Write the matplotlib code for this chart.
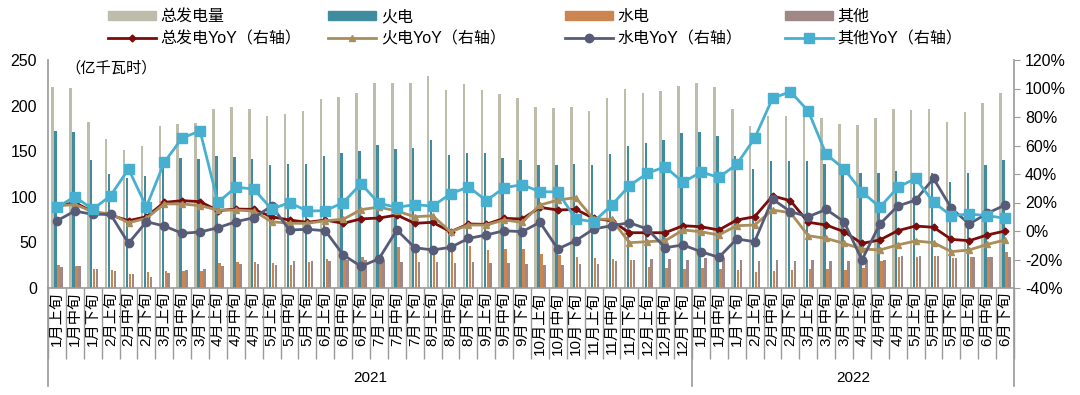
import matplotlib
matplotlib.use('Agg')
import matplotlib.pyplot as plt
from matplotlib.lines import Line2D
from matplotlib.patches import Patch
import numpy as np

plt.rcParams['font.family'] = ['Liberation Sans', 'Noto Sans CJK SC', 'DejaVu Sans']

# 类别：2021年1月上旬 ~ 2022年6月下旬
months_2021 = [f'{m}月' for m in range(1, 13)]
months_2022 = [f'{m}月' for m in range(1, 7)]
xun = ['上旬', '中旬', '下旬']
labels = [m + x for m in months_2021 for x in xun] + [m + x for m in months_2022 for x in xun]
years = ['2021', '2022']
n2021 = 36

# 发电量（亿千瓦时）
total = [220, 219, 182, 163, 151, 156, 178, 180, 181, 196, 199, 196, 189, 191, 194, 207, 209, 214, 225,
         225, 225, 233, 217, 224, 217, 213, 208, 198, 197, 198, 194, 208, 218, 214, 216, 222,
         225, 220, 196, 178, 189, 189, 189, 186, 180, 179, 186, 196, 195, 196, 182, 193, 203, 214]
thermal = [172, 171, 140, 125, 121, 123, 138, 142, 141, 145, 144, 141, 135, 136, 136, 145, 148, 150, 157,
           152, 154, 162, 146, 148, 148, 143, 140, 135, 135, 136, 135, 147, 156, 159, 162, 170,
           171, 167, 145, 130, 139, 139, 139, 136, 131, 126, 126, 128, 126, 126, 116, 126, 135, 140]
hydro = [25, 24.5, 21, 19.7, 15.4, 17.5, 19, 18.3, 19, 27, 28.5, 28.5, 27.8, 25, 29, 32, 31, 33.6, 30.7,
         44.6, 39.8, 38, 41.7, 46.4, 41.7, 43, 42.4, 37.3, 36.2, 34.4, 32.5, 31.4, 30.7, 23.4, 21.6, 20.5,
         21.6, 20.5, 19.7, 17.9, 19, 19.7, 20.5, 20.8, 19.7, 21.6, 30, 33.6, 34.4, 35, 32.5, 33.6, 33.6, 39.8]
other = [23.4, 24, 21, 18.3, 15.4, 12.4, 16.8, 19.7, 20.8, 24, 26.7, 26.7, 25, 29.6, 29.3, 30, 30.4, 31, 30.7,
         28.5, 28.5, 28.5, 27.8, 28.5, 27, 27, 26, 25.2, 25.2, 26.3, 26, 29.6, 30.7, 31.8, 31.8, 30.7,
         32.9, 32.9, 30.7, 30, 30.7, 30, 30.7, 30, 30, 30.7, 30.7, 35, 35, 35, 32.5, 33.6, 33.6, 34.4]

# 同比（%，右轴）
total_yoy = [17.5, 19.9, 13.5, 11.2, 7.2, 10.0, 20.1, 21.3, 20.6, 14.3, 15.4, 15.2, 10.0, 7.7, 6.1, 7.7, 5.4, 8.5, 9.1,
             11.2, 5.4, 6.1, -0.5, 4.9, 4.7, 8.9, 8.4, 16.6, 14.7, 15.2, 8.9, 7.2, -1.2, -1.2, -1.2, 3.7,
             3.0, 0.7, 7.7, 10.0, 24.6, 21.3, 6.1, 4.2, -0.5, -8.7, -6.3, 0.2, 3.5, 2.6, -5.9, -6.8, -2.8, 0.0]
thermal_yoy = [17.5, 18.7, 13.5, 12.0, 5.8, 8.9, 19.0, 19.0, 17.8, 14.7, 14.7, 14.0, 6.5, 5.4, 5.4, 7.2, 8.2, 15.0, 16.8,
               14.0, 10.0, 10.7, -0.5, 4.2, 4.2, 7.7, 6.1, 18.2, 21.7, 23.4, 8.4, 8.2, -8.2, -7.5, -6.8, 0.7,
               -0.5, -2.8, 3.7, 4.2, 14.7, 12.9, -3.3, -5.2, -8.7, -12.6, -13.3, -9.8, -7.0, -8.2, -14.5, -13.3, -9.4, -6.3]
hydro_yoy = [7.2, 14.0, 11.7, 11.7, -8.6, 6.5, 3.5, -1.6, -0.7, 2.3, 6.5, 9.3, 17.5, 0.7, 1.2, 0.2, -16.8, -24.8, -19.5,
             0.7, -11.7, -13.3, -11.5, -5.2, -2.8, 0.2, -0.5, 6.1, -12.6, -6.8, 1.4, 3.7, 5.8, 1.4, -11.7, -9.8,
             -14.5, -18.5, -5.6, -7.5, 22.4, 13.6, 10.0, 15.2, 6.5, -20.4, 4.9, 17.5, 21.7, 36.9, 15.9, 4.9, 12.4, 18.2]
other_yoy = [16.6, 24.1, 15.2, 24.8, 43.5, 17.0, 48.2, 65.3, 70.2, 20.1, 30.7, 29.5, 15.4, 19.9, 14.0, 14.3, 19.9, 33.2, 19.4,
             16.6, 18.5, 17.5, 26.0, 31.1, 21.3, 30.4, 32.5, 27.6, 27.4, 8.4, 6.5, 18.0, 31.8, 40.5, 45.1, 34.1,
             41.4, 37.6, 46.8, 65.0, 93.1, 97.8, 84.2, 53.8, 43.7, 27.6, 16.6, 30.6, 36.9, 20.1, 10.8, 11.9, 10.8, 8.9]

c_total, c_thermal, c_hydro, c_other = '#BEBCAA', '#3F8C9F', '#CC8550', '#A08886'
c_ty, c_thy, c_hy, c_oy = '#7A0C0C', '#A98D5B', '#565C78', '#47B0D0'
gray = '#9A9A9A'

fig = plt.figure(figsize=(10.8, 3.95), dpi=100)
ax = fig.add_axes([48 / 1080, 1 - 288 / 395, 966 / 1080, 228 / 395])
x = np.arange(len(labels))
w = 0.14
step = 0.165
ax.bar(x - 1.5 * step, total, w, color=c_total, label='总发电量')
ax.bar(x - 0.5 * step, thermal, w, color=c_thermal, label='火电')
ax.bar(x + 0.5 * step, hydro, w, color=c_hydro, label='水电')
ax.bar(x + 1.5 * step, other, w, color=c_other, label='其他')
ax.set_xlim(-0.5, len(labels) - 0.5)
ax.set_ylim(0, 250)
ax.set_yticks(range(0, 251, 50))

ax2 = ax.twinx()
ax2.plot(x, total_yoy, color=c_ty, lw=2, marker='D', ms=3.5, label='总发电YoY（右轴）')
ax2.plot(x, thermal_yoy, color=c_thy, lw=2, marker='^', ms=5, label='火电YoY（右轴）')
ax2.plot(x, hydro_yoy, color=c_hy, lw=2, marker='o', ms=6, label='水电YoY（右轴）')
ax2.plot(x, other_yoy, color=c_oy, lw=2, marker='s', ms=6.5, label='其他YoY（右轴）')
ax2.set_ylim(-40, 120)
ax2.set_yticks(range(-40, 121, 20))
ax2.set_yticklabels([f'{v}%' for v in range(-40, 121, 20)])

for a in (ax, ax2):
    for s in a.spines.values():
        s.set_visible(False)
ax.spines['left'].set_visible(True)
ax.spines['bottom'].set_visible(True)
ax2.spines['right'].set_visible(True)
for s in (ax.spines['left'], ax.spines['bottom'], ax2.spines['right']):
    s.set_color(gray)
    s.set_linewidth(1.2)

ax.tick_params(axis='y', labelsize=11.5, length=0, pad=8, colors='black')
ax2.tick_params(axis='y', labelsize=11.5, length=4, color=gray, pad=4)

# 类别标签与分隔线
ax.set_xticks(x)
ax.set_xticklabels(labels, rotation=90, fontsize=11, va='top')
ax.tick_params(axis='x', which='major', length=0, pad=3)
ax.set_xticks(np.arange(-0.5, len(labels), 1), minor=True)
ax.tick_params(axis='x', which='minor', length=51, color=gray, width=1)

trans = ax.get_xaxis_transform()
for xb in (-0.5, n2021 - 0.5, len(labels) - 0.5):
    ax.add_line(Line2D([xb, xb], [0, -0.43], transform=trans, color=gray, lw=1.2, clip_on=False))
ax.text((n2021 - 1) / 2, -0.395, years[0], transform=trans, ha='center', va='center', fontsize=11)
ax.text((n2021 + len(labels) - 1) / 2, -0.395, years[1], transform=trans, ha='center', va='center', fontsize=11)

ax.text(0.018, 0.965, '（亿千瓦时）', transform=ax.transAxes, ha='left', va='center', fontsize=11)

# 图例
h1, l1 = ax.get_legend_handles_labels()
h2, l2 = ax2.get_legend_handles_labels()
xs = [108, 328, 565, 785]
for i in range(4):
    leg = fig.legend([Patch(color=h1[i].patches[0].get_facecolor()), h2[i]], [l1[i], l2[i]],
                     loc='upper left', bbox_to_anchor=(xs[i] / 1080, 1 - 9 / 395), frameon=False,
                     fontsize=11.5, handlelength=3.0, handleheight=0.5, handletextpad=0.3,
                     labelspacing=0.45, borderpad=0, borderaxespad=0)

fig.savefig('out.png', dpi=100)
